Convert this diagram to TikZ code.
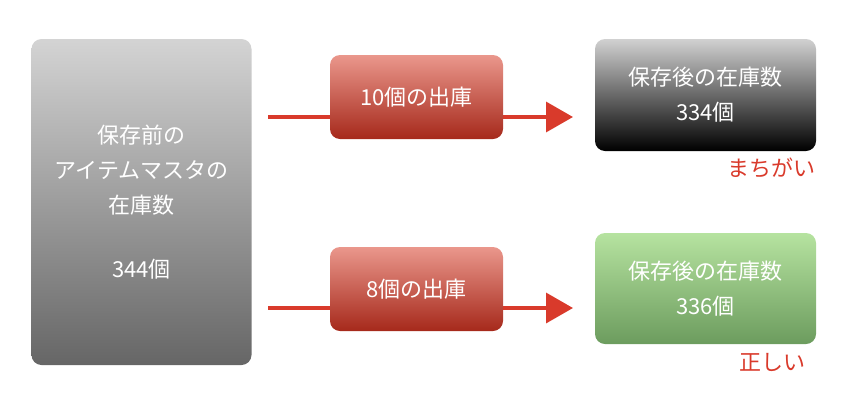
\documentclass[tikz,border=0pt]{standalone}
\usepackage{fontspec}
\setmainfont{Noto Sans CJK JP}
\usepackage{tikz}
\usetikzlibrary{arrows.meta}
\pgfdeclarelayer{bg}
\pgfsetlayers{bg,main}
\definecolor{crayon}{HTML}{D93A2B}
\definecolor{leaftop}{HTML}{B6E3A0}
\definecolor{leafbot}{HTML}{6C9C5E}
\definecolor{bricktop}{HTML}{EA978C}
\definecolor{brickbot}{HTML}{A6291B}
\begin{document}
\begin{tikzpicture}[x=1pt,y=-1pt,
        box/.style={rounded corners=10pt, text=white, align=center, inner sep=0pt,
                font=\fontsize{22}{35}\selectfont},
        grey/.style={box, top color=black!17, bottom color=black!60},
        dark/.style={box, top color=black!18, bottom color=black},
        green/.style={box, top color=leaftop, bottom color=leafbot},
        redbox/.style={box, top color=bricktop, bottom color=brickbot,
                minimum width=173pt, minimum height=84pt},
        note/.style={text=crayon, font=\fontsize{22}{24}\selectfont, inner sep=0pt},
        crayonarrow/.style={draw=crayon, line width=3.5pt,
                -{Triangle[length=27pt, width=30pt]}}]
        \useasboundingbox (0,0) rectangle (852,413);
        \node (v0) [grey, minimum width=220pt, minimum height=326pt] at (141.5,202) {
保存前の\\アイテムマスタの\\在庫数\\[29pt]344個};
        \node (v1) [redbox] at (416.5,97) {10個の出庫};
        \node (v2) [redbox] at (416.5,289) {8個の出庫};
        \node (v3) [dark, minimum width=221pt, minimum height=112pt] at (705.5,95) {
保存後の在庫数\\334個};
        \node (v4) [green, minimum width=221pt, minimum height=111pt] at (705.5,288.5) {
保存後の在庫数\\336個};
        \node (v5) [note] at (771,168) {まちがい};
        \node (v6) [note] at (772,362) {正しい};
        \coordinate (a0) at (268,117);
        \coordinate (a1) at (573,117);
        \coordinate (a2) at (268,308);
        \coordinate (a3) at (573,308);
        \begin{pgfonlayer}{bg}
                \draw [crayonarrow] (a0) -- (a1);
                \draw [crayonarrow] (a2) -- (a3);
        \end{pgfonlayer}
\end{tikzpicture}
\end{document}
